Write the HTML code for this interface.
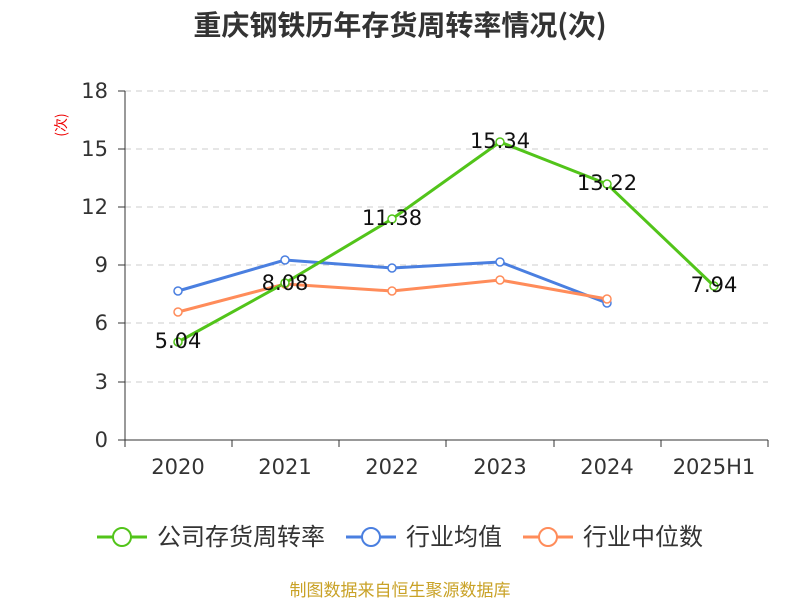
<!DOCTYPE html>
<html><head><meta charset="utf-8"><style>body{margin:0;background:#fff}svg{display:block}text{font-family:"DejaVu Sans","Noto Sans CJK SC",sans-serif}.c{font-family:"Noto Sans CJK SC",sans-serif}</style></head><body>
<svg width="800" height="600" xmlns="http://www.w3.org/2000/svg">
<text class="c" x="400" y="35" text-anchor="middle" font-size="28" font-weight="bold" fill="#333">重庆钢铁历年存货周转率情况(次)</text>
<text class="c" transform="translate(66,125) rotate(-90)" text-anchor="middle" font-size="14" fill="#e00">(次)</text>
<g stroke="#ccc" stroke-dasharray="6,5" stroke-width="1">
<line x1="125" x2="768" y1="91" y2="91"/><line x1="125" x2="768" y1="149" y2="149"/><line x1="125" x2="768" y1="207" y2="207"/><line x1="125" x2="768" y1="265" y2="265"/><line x1="125" x2="768" y1="323" y2="323"/><line x1="125" x2="768" y1="382" y2="382"/>
</g>
<g stroke="#333" stroke-width="1">
<line x1="125" x2="125" y1="91" y2="440"/><line x1="125" x2="768" y1="440" y2="440"/>
<line x1="118" x2="125" y1="91" y2="91"/><line x1="118" x2="125" y1="149" y2="149"/><line x1="118" x2="125" y1="207" y2="207"/><line x1="118" x2="125" y1="265" y2="265"/><line x1="118" x2="125" y1="323" y2="323"/><line x1="118" x2="125" y1="382" y2="382"/><line x1="118" x2="125" y1="440" y2="440"/>
<line x1="125" x2="125" y1="440" y2="447"/><line x1="232" x2="232" y1="440" y2="447"/><line x1="339" x2="339" y1="440" y2="447"/><line x1="446" x2="446" y1="440" y2="447"/><line x1="554" x2="554" y1="440" y2="447"/><line x1="661" x2="661" y1="440" y2="447"/><line x1="768" x2="768" y1="440" y2="447"/>
</g>
<g font-size="21" fill="#333" text-anchor="end">
<text x="108" y="98">18</text><text x="108" y="156">15</text><text x="108" y="214">12</text><text x="108" y="272">9</text><text x="108" y="330">6</text><text x="108" y="389">3</text><text x="108" y="447">0</text>
</g>
<g font-size="21" fill="#333" text-anchor="middle">
<text x="178" y="474">2020</text><text x="285" y="474">2021</text><text x="392" y="474">2022</text><text x="500" y="474">2023</text><text x="607" y="474">2024</text><text x="714" y="474">2025H1</text>
</g>
<polyline fill="none" stroke="#4a7fe0" stroke-width="3" points="178,291 285,260 392,268 500,262 607,303"/>
<polyline fill="none" stroke="#ff8c5a" stroke-width="3" points="178,312 285,284 392,291 500,280 607,299"/>
<polyline fill="none" stroke="#52c41a" stroke-width="3" points="178,342 285,283 392,219 500,142 607,184 714,286"/>
<g fill="#fff" stroke-width="1.5">
<g stroke="#4a7fe0"><circle cx="178" cy="291" r="4"/><circle cx="285" cy="260" r="4"/><circle cx="392" cy="268" r="4"/><circle cx="500" cy="262" r="4"/><circle cx="607" cy="303" r="4"/></g>
<g stroke="#ff8c5a"><circle cx="178" cy="312" r="4"/><circle cx="285" cy="284" r="4"/><circle cx="392" cy="291" r="4"/><circle cx="500" cy="280" r="4"/><circle cx="607" cy="299" r="4"/></g>
<g stroke="#52c41a"><circle cx="178" cy="342" r="4"/><circle cx="285" cy="283" r="4"/><circle cx="392" cy="219" r="4"/><circle cx="500" cy="142" r="4"/><circle cx="607" cy="184" r="4"/><circle cx="714" cy="286" r="4"/></g>
</g>
<g font-size="21" fill="#111" text-anchor="middle">
<text x="178" y="348">5.04</text><text x="285" y="290">8.08</text><text x="392" y="225">11.38</text><text x="500" y="148">15.34</text><text x="607" y="190">13.22</text><text x="714" y="292">7.94</text>
</g>
<g font-size="24" fill="#333" class="c">
<line x1="97" x2="147" y1="537" y2="537" stroke="#52c41a" stroke-width="3"/><circle cx="122" cy="537" r="9" fill="#fff" stroke="#52c41a" stroke-width="2"/><text class="c" x="157" y="545">公司存货周转率</text>
<line x1="346" x2="396" y1="537" y2="537" stroke="#4a7fe0" stroke-width="3"/><circle cx="371" cy="537" r="9" fill="#fff" stroke="#4a7fe0" stroke-width="2"/><text class="c" x="406" y="545">行业均值</text>
<line x1="523" x2="573" y1="537" y2="537" stroke="#ff8c5a" stroke-width="3"/><circle cx="548" cy="537" r="9" fill="#fff" stroke="#ff8c5a" stroke-width="2"/><text class="c" x="583" y="545">行业中位数</text>
</g>
<text class="c" x="400" y="596" text-anchor="middle" font-size="17" fill="#c9a227">制图数据来自恒生聚源数据库</text>
</svg>
</body></html>
